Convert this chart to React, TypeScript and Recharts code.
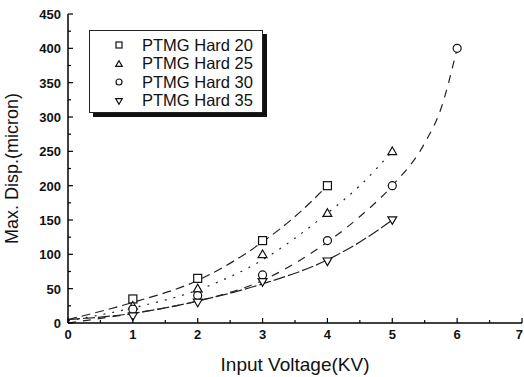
import {
  ComposedChart,
  Line,
  Scatter,
  XAxis,
  YAxis,
  Legend,
} from "recharts";

const FONT = "'Liberation Sans', Arial, sans-serif";

// measured points
const hard20V = [1, 2, 3, 4];
const hard20 = [35, 65, 120, 200];
const hard25V = [1, 2, 3, 4, 5];
const hard25 = [25, 50, 100, 160, 250];
const hard30V = [1, 2, 3, 4, 5, 6];
const hard30 = [20, 40, 70, 120, 200, 400];
const hard35V = [1, 2, 3, 4, 5];
const hard35 = [10, 30, 60, 90, 150];

// fitted curves
const fit20V = [0, 1, 2, 3, 3.5, 4];
const fit20 = [5, 30, 62, 118, 155, 200];
const fit25V = [0, 1, 2, 3, 4, 4.5, 5];
const fit25 = [3, 22, 48, 92, 160, 200, 250];
const fit30V = [0, 1, 2, 3, 4, 4.5, 5, 5.5, 5.75, 6];
const fit30 = [0, 14, 32, 62, 118, 155, 200, 262, 312, 400];
const fit35V = [0, 1, 2, 3, 4, 4.5, 5];
const fit35 = [5, 14, 32, 57, 92, 118, 150];

const xTicks = [0, 0.5, 1, 1.5, 2, 2.5, 3, 3.5, 4, 4.5, 5, 5.5, 6, 6.5, 7];
const yTicks = [
  0, 25, 50, 75, 100, 125, 150, 175, 200, 225, 250, 275, 300, 325, 350, 375,
  400, 425, 450,
];

const names = ["PTMG Hard 20", "PTMG Hard 25", "PTMG Hard 30", "PTMG Hard 35"];
const kinds = ["square", "up", "circle", "down"];

const pts = (xs: number[], ys: number[]) => xs.map((x, i) => ({ x, y: ys[i] }));

const Marker = ({ cx, cy, kind, r = 4 }: any) => {
  const p = { fill: "#fff", stroke: "#111", strokeWidth: 1.2 };
  if (kind === "square")
    return <rect x={cx - r} y={cy - r} width={r * 2} height={r * 2} {...p} />;
  if (kind === "circle") return <circle cx={cx} cy={cy} r={r} {...p} />;
  if (kind === "up")
    return (
      <path
        d={`M${cx},${cy - r * 1.1} L${cx + r * 1.1},${cy + r * 0.8} L${cx - r * 1.1},${cy + r * 0.8} Z`}
        {...p}
      />
    );
  return (
    <path
      d={`M${cx},${cy + r * 1.1} L${cx + r * 1.1},${cy - r * 0.8} L${cx - r * 1.1},${cy - r * 0.8} Z`}
      {...p}
    />
  );
};

const XTick = ({ x, y, payload, side }: any) => {
  const major = Number.isInteger(payload.value);
  const len = major ? 5 : 3;
  const dir = side === "top" ? 1 : -1;
  const last = payload.value === 7;
  return (
    <g>
      <line x1={x} y1={y} x2={x} y2={y + dir * len} stroke="#000" strokeWidth={1.2} />
      {side !== "top" && major && (
        <text
          x={last ? x + 1 : x}
          y={y + 16}
          textAnchor={last ? "end" : "middle"}
          fontSize={13}
          fontWeight="bold"
          fontFamily={FONT}
          fill="#111"
        >
          {payload.value}
        </text>
      )}
    </g>
  );
};

const YTick = ({ x, y, payload, side }: any) => {
  const major = payload.value % 50 === 0;
  const len = major ? 5 : 3;
  const dir = side === "right" ? -1 : 1;
  return (
    <g>
      <line x1={x} y1={y} x2={x + dir * len} y2={y} stroke="#000" strokeWidth={1.2} />
      {side !== "right" && major && (
        <text x={x - 7} y={y + 5} textAnchor="end" fontSize={13} fontWeight="bold" fontFamily={FONT} fill="#111">
          {payload.value}
        </text>
      )}
    </g>
  );
};

const LegendBox = () => (
  <div
    style={{
      width: 174,
      height: 83,
      border: "1px solid #222",
      background: "#fff",
      boxShadow: "4px 4px 0 #111",
      fontFamily: FONT,
      fontSize: 16.5,
      color: "#111",
      paddingTop: 5,
      boxSizing: "border-box",
    }}
  >
    {names.map((n, i) => (
      <div key={n} style={{ display: "flex", alignItems: "center", height: 18.5 }}>
        <svg width={52} height={18}>
          <Marker cx={29} cy={9} kind={kinds[i]} r={3} />
        </svg>
        <span>{n}</span>
      </div>
    ))}
  </div>
);

export default function App() {
  const series = [
    { d: pts(hard20V, hard20), f: pts(fit20V, fit20), dash: "9 5" },
    { d: pts(hard25V, hard25), f: pts(fit25V, fit25), dash: "2 7" },
    { d: pts(hard30V, hard30), f: pts(fit30V, fit30), dash: "8 7" },
    { d: pts(hard35V, hard35), f: pts(fit35V, fit35), dash: "12 3" },
  ];

  return (
    <div style={{ position: "absolute", left: 0, top: 0, background: "#fff" }}>
      <ComposedChart width={524} height={377} margin={{ top: 14, right: 2, bottom: 0, left: 0 }}>
        <XAxis
          xAxisId={0}
          type="number"
          dataKey="x"
          domain={[0, 7]}
          ticks={xTicks}
          interval={0}
          tickSize={0}
          tickMargin={0}
          tickLine={false}
          tick={<XTick side="bottom" />}
          axisLine={{ stroke: "#000", strokeWidth: 1.5 }}
          height={54}
          allowDataOverflow
          label={{
            value: "Input Voltage(KV)",
            position: "insideBottom",
            offset: 6,
            style: { fontFamily: FONT, fontSize: 19, fill: "#111" },
          }}
        />
        <XAxis
          xAxisId="top"
          orientation="top"
          type="number"
          dataKey="x"
          domain={[0, 7]}
          ticks={xTicks}
          interval={0}
          tickSize={0}
          tickMargin={0}
          tickLine={false}
          tick={<XTick side="top" />}
          axisLine={{ stroke: "#000", strokeWidth: 1.5 }}
          height={0}
        />
        <YAxis
          yAxisId={0}
          type="number"
          domain={[0, 450]}
          ticks={yTicks}
          interval={0}
          tickSize={0}
          tickMargin={0}
          tickLine={false}
          tick={<YTick side="left" />}
          axisLine={{ stroke: "#000", strokeWidth: 1.5 }}
          width={68}
          allowDataOverflow
          label={{
            value: "Max. Disp.(micron)",
            angle: -90,
            position: "insideLeft",
            offset: 12,
            style: { textAnchor: "middle", fontFamily: FONT, fontSize: 18, fill: "#111" },
          }}
        />
        <YAxis
          yAxisId="right"
          orientation="right"
          type="number"
          domain={[0, 450]}
          ticks={yTicks}
          interval={0}
          tickSize={0}
          tickMargin={0}
          tickLine={false}
          tick={<YTick side="right" />}
          axisLine={{ stroke: "#000", strokeWidth: 1.5 }}
          width={0}
        />
        <Legend
          layout="vertical"
          align="center"
          verticalAlign="middle"
          wrapperStyle={{ left: 89, top: 30, width: 180 }}
          content={<LegendBox />}
        />
        {series.map((s, i) => (
          <Line
            key={"f" + i}
            data={s.f}
            dataKey="y"
            type="monotone"
            stroke="#222"
            strokeWidth={1.2}
            strokeDasharray={s.dash}
            dot={false}
            activeDot={false}
            legendType="none"
            isAnimationActive={false}
          />
        ))}
        {series.map((s, i) => (
          <Scatter
            key={"s" + i}
            name={names[i]}
            data={s.d}
            dataKey="y"
            shape={(p: any) => <Marker cx={p.cx} cy={p.cy} kind={kinds[i]} r={4} />}
            isAnimationActive={false}
          />
        ))}
      </ComposedChart>
    </div>
  );
}
